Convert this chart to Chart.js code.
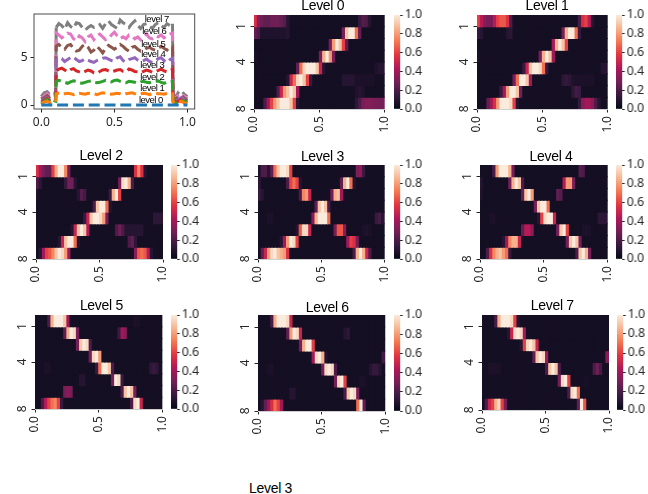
<!DOCTYPE html>
<html><head><meta charset="utf-8">
<script src="https://cdn.jsdelivr.net/npm/chart.js@4"></script>
<style>
html,body{margin:0;padding:0;background:#fff;width:648px;height:494px;overflow:hidden}
canvas{position:absolute}
#cap{position:absolute;left:249px;top:480px;font:14px "Liberation Sans";letter-spacing:-.3px;color:#000}
</style></head><body>
<div id="cap">Level 3</div>
<script>
const b=.05;
const colorbarTicks=[0,.2,.4,.6,.8,1];
const heatXTicks=[0,.5,1];
const heatYTicks=[1,4,8];
const lineXTicks=[0,.5,1];
const lineYTicks=[0,5];
const lineNames=['level 0','level 1','level 2','level 3','level 4','level 5','level 6','level 7'];
const lineColors=['#1f77b4','#ff7f0e','#2ca02c','#d62728','#9467bd','#8c564b','#e377c2','#7f7f7f'];
const labelX=[.75,.76,.76,.76,.766,.766,.773,.79];
const labelY=[.53,1.8,2.96,4.23,5.39,6.45,7.82,9.09];
const xs=[0,.02,.04,.06,.08,.098,
.102,.12,.14,.16,.18,.2,.22,.24,.26,.28,.3,.32,.34,.36,.38,.4,.42,.44,.46,.48,
.5,.52,.54,.56,.58,.6,.62,.64,.66,.68,.7,.72,.74,.76,.78,.8,.82,.84,.86,.88,.898,
.902,.92,.94,.96,.98,1];
const line0=[0,0,0,0,0,0, 0,0,0,0,0,0,0,0,0,0, 0,0,0,0,0,0,0,0,0,0, 0,0,0,0,0,0,0,0,0,0, 0,0,0,0,0,0,0,0,0,0, 0, 0,0,0,0,0,0];
const line1=[.2,.3,.4,.2,.3,.3, 1.2,1.25,1.15,1.2,1.25,1.2,1.1,1.2,1.25,1.2, 1.15,1.25,1.2,1.2,1.1,1.2,1.3,1.25,1.2,1.15, 1.2,1.25,1.2,1.1,1.2,1.25,1.3,1.2,1.15,1.2, 1.25,1.2,1.1,1.2,1.25,1.2,1.2,1.15,1.25,1.2, 1.2, .3,.2,.3,.4,.2,.2];
const line2=[.1,.4,.6,.3,.5,.4, 2.5,2.6,2.5,2.4,2.3,2.45,2.55,2.5,2.35,2.3, 2.4,2.5,2.55,2.4,2.35,2.4,2.5,2.6,2.5,2.45, 2.6,2.65,2.5,2.4,2.35,2.5,2.45,2.4,2.3,2.45, 2.5,2.4,2.35,2.45,2.5,2.55,2.4,2.3,2.45,2.5, 2.5, .4,.2,.3,.5,.4,.3];
const line3=[.3,.5,.7,.4,.6,.5, 3.6,3.8,3.9,3.7,3.5,3.75,3.85,3.6,3.5,3.4, 3.55,3.7,3.6,3.4,3.35,3.55,3.7,3.75,3.6,3.5, 3.6,3.7,3.75,3.55,3.5,3.8,3.7,3.55,3.5,3.4, 3.55,3.7,3.6,3.45,3.5,3.65,3.8,3.6,3.5,3.7, 3.75, .5,.3,.4,.6,.4,.3];
const line4=[.4,.6,.8,.5,.7,.6, 4.8,5,4.9,4.6,4.8,5,5.1,4.8,4.6,4.7, 4.9,4.75,4.6,4.5,4.7,4.8,4.95,5,4.85,4.7, 4.65,5,5.1,4.7,4.55,4.8,4.9,5,4.75,4.6, 4.7,4.85,4.6,4.5,4.65,4.9,5,4.7,4.5,4.8, 4.95, .6,.5,.6,.8,.5,.4];
const line5=[.6,.8,1,.7,.9,.8, 6.2,6.4,6.1,5.9,6.3,6.4,6,5.7,5.8,6.2, 6.4,6.1,5.6,5.8,6.2,5.9,5.5,6,6.3,6.1, 5.9,6.1,6.4,6.2,5.9,5.7,6.1,6.2,5.9,5.7, 5.8,6,6.1,5.9,5.8,6,6.2,6,5.8,6.1, 6.2, .7,.6,.9,1,.7,.5];
const line6=[.7,1,1.2,.9,1.1,1, 7.6,7.4,7.1,7.3,7.6,7.5,7,6.8,7.3,7.1, 6.7,7.2,7.4,6.9,7.3,7.5,7.2,6.9,7,7.4, 7.7,7.3,7,7.2,7,7.4,7.3,7,7.2,6.9, 7.3,7.5,7.1,7,7.3,7.2,7.4,7.1,7.3,7.5, 7.6, .9,.7,1.1,1.2,.9,.7];
const line7=[.9,1.3,1.4,1.1,1.3,1.2, 8.2,8.6,8.4,8,8.7,8.3,8.1,8.7,8.6,8.2, 7.9,8.2,8.4,8.2,8.3,8.5,8.1,8.6,8.9,8.5, 8.3,8.1,9,8.7,8.5,8.2,8.6,8.9,8.4,8.1, 8.5,8.6,8.3,8.1,8.5,8.7,8.4,8.2,8.6,8.4, 8.6, 1.2,.8,1.4,1.5,1.1,.9];

const level0=[
[.55,.35,.28,.25,.25,.28,.28,.28,.25,.22, .1,b,b,b,b,b,b,b,b,b, b,b,b,b,b,b,b,b,b,b, b,b,.15,.22,.2,.1,b,b,b,b],
[.25,.2,.08,.08,.08,.08,.08,.08,.08,.08, .1,b,b,b,b,b,b,b,b,b, b,b,b,b,b,b,b,.3,.9,1, 1,.7,.25,b,b,b,b,b,b,b],
[b,b,b,b,b,b,b,b,b,b, b,b,b,b,b,b,b,b,b,b, b,b,b,.3,.8,1,.9,.6,.25,b, b,b,b,b,b,b,b,b,b,b],
[.07,b,b,b,b,b,b,b,b,b, b,b,b,b,b,b,b,b,b,b, .3,.85,1,.8,.3,b,b,b,b,b, b,b,b,b,b,b,b,b,b,b],
[b,b,b,b,b,b,b,b,b,b, b,b,b,.25,.7,.95,1,1,1,.9, .5,.1,b,b,b,b,b,b,b,b, b,b,b,b,b,b,b,.08,.1,.1],
[b,b,b,b,b,b,b,b,b,b, .1,.5,.7,.95,1,.9,.6,.15,b,b, b,b,b,b,b,b,b,.1,.1,.1, .1,.07,.07,.07,.07,.07,.07,b,b,b],
[b,b,b,b,b,b,b,.2,.5,.8, .9,1,.9,.4,b,b,b,b,b,b, b,b,b,b,b,b,b,b,b,b, b,.08,.1,.08,b,b,b,b,b,b],
[b,b,b,.2,.4,.6,.8,.9,1,1, 1,.9,.6,.1,b,b,b,b,b,b, b,b,b,b,b,b,b,b,b,b, b,.12,.2,.3,.33,.33,.32,.3,.3,.3]];
const level1=[
[.6,.45,.35,.3,.3,.45,.6,.65,.65,.55, .2,b,b,b,b,b,b,b,b,b, b,b,b,b,b,b,b,b,b,b, b,.2,.55,.6,.45,.1,b,b,b,b],
[.15,.1,b,b,b,b,b,b,b,.1, .12,b,b,b,b,b,b,b,b,b, b,b,b,b,b,b,.3,.85,1,1, .7,.15,b,b,b,b,b,b,b,b],
[b,b,b,b,b,b,b,b,b,b, b,b,b,b,b,b,b,b,b,b, b,b,b,.4,.85,1,.9,.6,b,b, b,b,b,b,b,b,b,b,b,b],
[.07,b,b,b,b,b,b,b,b,b, b,b,b,b,b,b,b,b,b,.3, .85,1,.9,.4,b,b,b,b,b,b, b,b,b,b,b,b,b,b,b,b],
[b,b,b,b,b,b,b,b,b,b, b,b,b,b,.15,.5,.9,1,1,.95, .7,.15,b,b,b,b,b,b,b,b, b,b,b,b,b,b,b,b,.1,.1],
[b,b,b,b,b,b,b,b,b,b, b,.3,.7,1,1,.9,.4,b,b,b, b,b,b,b,b,b,.12,.14,.12,.08, .07,.07,.07,.07,.07,.07,b,b,b,b],
[b,b,b,b,b,b,b,.15,.4,.8, 1,1,.9,.3,b,b,b,b,b,b, b,b,b,b,b,b,b,b,b,.12, .18,.15,b,b,b,b,b,b,b,b],
[b,b,b,.25,.4,.55,.8,1,1,1, .95,.6,.1,b,b,b,b,b,b,b, b,b,b,b,b,b,b,b,b,b, b,.15,.35,.4,.4,.35,.2,.1,b,b]];
const level2=[
[.55,.4,.3,.25,.25,.6,.85,1,1,.75, .3,b,b,b,b,b,b,b,b,b, b,b,b,b,b,b,b,b,b,b, b,.55,.75,.55,.1,b,b,b,b,b],
[.2,.12,b,b,b,b,b,b,b,.15, .3,.28,.1,b,b,b,b,b,b,b, b,b,b,b,b,b,.3,.95,1,.85, .2,b,b,b,b,b,b,b,b,b],
[.08,b,b,b,b,b,b,b,b,b, b,b,b,.1,.22,.18,b,b,b,b, b,b,b,.15,.85,1,.6,b,b,b, b,b,b,b,b,b,b,b,b,b],
[b,b,b,b,b,b,b,b,b,b, b,b,b,b,b,b,b,b,.2,.9, 1,1,.7,.1,b,b,b,b,b,b, b,b,b,b,b,b,b,b,b,b],
[b,b,b,b,b,b,b,b,b,b, b,b,b,b,b,.15,.5,.9,1,1, .95,.8,.3,b,b,b,b,b,b,b, b,b,b,b,b,b,b,.12,.12,.12],
[b,b,b,b,b,b,b,b,b,b, b,.1,.5,.9,1,.9,.45,b,b,b, b,b,b,b,b,.2,.28,.2,.1,.1, .1,.1,.1,.1,b,b,b,b,b,b],
[b,b,b,b,b,b,b,.1,.5,.9, 1,1,.7,.1,b,b,b,b,b,b, b,b,b,b,b,b,b,b,b,.2, .25,.12,b,b,b,b,b,b,b,b],
[b,.1,.4,.6,.65,.75,.9,1,.95,.8, .4,b,b,b,b,b,b,b,b,b, b,b,b,b,b,b,b,b,b,b, b,.35,.65,.7,.65,.45,.1,b,b,b]];
const level3=[
[.08,.2,.2,.1,.25,.7,.9,1,1,.95, .6,b,b,b,b,b,b,b,b,b, b,b,b,b,b,b,b,b,b,b, b,.32,.35,.15,b,b,b,b,b,b],
[.12,b,b,b,b,b,b,b,b,.2, .6,.7,.6,.1,b,b,b,b,b,b, b,b,b,b,b,b,.25,.85,1,.7, .1,b,b,b,b,b,b,b,b,b],
[.15,.1,b,b,b,b,b,b,b,b, b,b,b,.2,.75,.8,.5,b,b,b, b,b,b,.3,.85,.9,.4,b,b,b, b,b,b,b,b,b,b,b,b,b],
[b,b,b,b,b,b,b,b,b,b, b,b,b,b,b,b,b,b,.25,.9, 1,.9,.2,b,b,b,b,b,b,b, b,b,b,b,b,b,b,b,b,b],
[b,b,b,.07,.07,b,b,b,b,b, b,b,b,b,b,b,b,.35,.85,1, 1,1,.7,b,b,b,b,b,b,b, b,b,b,b,b,b,b,.15,.18,.1],
[b,b,b,b,b,b,b,b,b,b, b,b,.1,.65,.95,.95,.5,b,b,b, b,b,b,b,.3,.65,.65,.35,b,b, b,b,b,.07,.08,.07,b,b,b,b],
[b,b,b,b,b,b,b,.1,.4,.8, 1,.95,.6,b,b,b,b,b,b,b, b,b,b,b,b,b,b,b,.4,.6, .55,.3,b,b,b,b,b,b,b,b],
[b,.25,.5,.8,.95,1,.9,.85,.8,.55, b,b,b,b,b,b,b,b,b,b, b,b,b,b,b,b,b,b,b,b, .2,.85,1,.85,.5,.2,b,b,b,b]];
const level4=[
[b,b,b,b,.2,.8,1,1,1,.85, .3,b,b,b,b,b,b,b,b,b, b,b,b,b,b,b,b,b,b,b, b,.22,.2,b,b,b,b,b,b,b],
[.1,b,b,b,b,b,b,b,b,.3, .85,1,.9,.2,b,b,b,b,b,b, b,b,b,b,b,b,.45,.8,.8,.3, b,b,b,b,b,b,b,b,b,b],
[.08,b,b,b,b,b,b,b,b,b, b,b,b,.25,.9,1,.8,b,b,b, b,b,b,b,.25,.22,b,b,b,b, b,b,b,b,b,b,b,b,b,b],
[b,b,b,b,b,b,b,b,b,b, b,b,b,b,b,b,b,.3,.9,1, 1,.7,b,b,b,b,b,b,b,b, b,b,b,b,b,b,b,b,b,b],
[b,b,b,.07,.07,b,b,b,b,b, b,b,b,b,b,b,b,b,.1,.6, .95,1,1,.5,b,b,b,b,b,b, b,b,b,b,b,b,b,.12,.12,.12],
[b,b,b,b,b,b,b,b,b,b, b,b,b,.25,.45,.45,.35,b,b,b, b,b,b,b,.3,.9,1,.6,b,b, b,b,.07,.08,.07,b,b,b,b,b],
[b,b,b,b,b,b,b,.1,.4,.75, .85,.85,.5,b,b,b,b,b,b,b, b,b,b,b,b,b,b,.3,.9,1, .9,.3,b,b,b,b,b,b,b,b],
[b,b,.2,.55,.75,.85,.9,.8,.7,.15, b,b,b,b,b,b,b,b,b,b, b,b,b,b,b,b,b,b,b,b, .2,.9,1,.85,.3,b,b,b,b,b]];
const level5=[
[b,b,b,b,.2,.85,1,1,1,.9, .4,b,b,b,b,b,b,b,b,b, b,b,b,b,b,b,b,b,b,b, b,.07,.07,b,b,b,b,b,b,b],
[b,b,b,b,b,b,b,b,b,.25, .85,1,.95,.3,b,b,b,b,b,b, b,b,b,b,b,b,.15,.4,.35,b, b,b,b,b,b,b,b,b,b,b],
[b,b,b,b,b,b,b,b,b,b, b,b,b,.3,.9,1,.95,.2,b,b, b,b,b,b,b,b,b,b,b,b, b,b,b,b,b,b,b,b,b,b],
[b,b,b,b,b,b,b,b,b,b, b,b,b,b,b,b,b,.3,.95,1, .8,b,b,b,b,b,b,b,b,b, b,b,b,b,b,b,b,b,b,b],
[b,b,b,.07,.07,b,b,b,b,b, b,b,b,b,b,b,b,b,b,.15, .7,1,1,.9,.2,b,b,b,b,b, b,b,b,b,b,b,.12,.15,.12,b],
[b,b,b,b,b,b,b,b,b,b, b,b,b,b,.1,.1,b,b,b,b, b,b,b,b,.3,1,.95,.15,b,b, b,b,b,b,b,b,b,b,b,b],
[b,b,b,b,b,b,b,b,b,.3, .35,.3,b,b,b,b,b,b,b,b, b,b,b,b,b,b,b,.2,.9,1, .9,.3,b,b,b,b,b,b,b,b],
[b,b,.2,.45,.6,.7,.75,.6,.15,b, b,b,b,b,b,b,b,b,b,b, b,b,b,b,b,b,b,b,b,b, .2,.95,1,.5,b,b,b,b,b,b]];
const level6=[
[b,b,b,b,.2,.85,1,1,1,.95, .5,b,b,b,b,b,b,b,b,b, b,b,b,b,b,b,b,b,b,b, b,b,b,b,b,b,b,b,b,b],
[b,b,b,b,b,b,b,b,b,.25, .8,1,.95,.5,b,b,b,b,b,b, b,b,b,b,b,b,b,.1,.12,b, b,b,b,b,b,b,b,b,b,b],
[b,b,b,b,b,b,b,b,b,b, b,b,b,.3,.85,1,1,.6,b,b, b,b,b,b,b,b,b,b,b,b, b,b,b,b,b,b,b,b,b,b],
[b,b,b,b,b,b,b,b,b,b, b,b,b,b,b,b,b,.4,.95,1, .85,.1,b,b,b,b,b,b,b,b, b,b,b,b,b,b,b,b,b,.18],
[b,b,b,.07,.07,b,b,b,b,b, b,b,b,b,b,b,b,b,b,b, .3,.95,1,.95,.2,b,b,b,b,b, b,b,b,b,b,.1,.14,.14,.1,b],
[b,b,b,b,b,b,b,b,b,b, b,b,b,b,b,b,b,b,b,b, b,b,b,b,.3,.95,1,.6,b,b, b,b,.07,.07,b,b,b,b,b,b],
[b,b,b,b,b,b,b,b,b,b, .1,.1,b,b,b,b,b,b,b,b, b,b,b,b,b,b,b,.2,.9,1, .95,.3,b,b,b,b,b,b,b,b],
[b,.1,.25,.4,.55,.7,.6,.4,b,b, b,b,b,b,b,b,b,b,b,b, b,b,b,b,b,b,b,b,b,b, b,.7,1,.25,b,b,b,b,b,b]];
const level7=[
[b,b,b,b,.2,.85,1,1,1,.95, .6,.1,b,b,b,b,b,b,b,b, b,b,b,b,b,b,b,b,b,b, b,b,b,b,b,b,b,b,b,b],
[b,b,b,b,b,b,b,b,.1,.5, .95,1,.95,.4,b,b,b,b,b,b, b,b,b,b,b,b,b,b,b,b, b,b,b,b,b,b,b,b,b,b],
[b,b,b,b,b,b,b,b,b,b, b,b,.1,.6,.95,1,.9,.5,b,b, b,b,b,b,b,b,b,b,b,b, b,b,b,b,b,b,b,b,b,b],
[b,b,b,b,b,b,b,b,b,b, b,b,b,b,b,b,.25,.9,1,.95, .4,b,b,b,b,b,b,b,b,b, b,b,b,b,b,b,b,b,b,.35],
[b,b,.07,.07,.07,.07,b,b,b,b, b,b,b,b,b,b,b,b,b,b, .2,.9,1,.9,.2,b,b,b,b,b, b,b,b,b,b,.2,.28,.18,b,b],
[b,b,b,b,b,b,b,b,b,b, b,b,b,b,b,b,b,b,b,b, b,b,b,b,.3,.95,1,.6,b,b, b,b,.06,.06,b,b,b,b,b,b],
[b,b,b,b,b,b,b,b,b,b, b,b,b,b,b,b,b,b,b,b, b,b,b,b,b,b,b,.2,.95,1, .7,b,b,b,b,b,b,b,b,b],
[b,.2,.5,.6,.85,.95,.6,.3,b,b, b,b,b,b,b,b,b,b,b,b, b,b,b,b,b,b,b,b,b,b, .25,1,.65,b,b,b,b,b,b,b]];

const levels=[level0,level1,level2,level3,level4,level5,level6,level7];
const lines=[line0,line1,line2,line3,line4,line5,line6,line7];
const rocketStops=['#030a15','#35193e','#701f57','#ad1759','#e13342','#f37651','#f6b48f','#faebdd'];

/* panel placement: plot box left, top, width, height, colourbar left, title centre, title gap */
const panels=[
 [254,14.7,130.7,93.6,394,322.7,2],
 [477,14.7,130.7,93.6,616,547,2],
 [35.7,164.7,127,94,171,100.8,2],
 [258.3,164.7,126.7,94,394,322.7,1],
 [480,164.7,127.7,94,616.3,551,1],
 [35.3,314.7,127.4,94,171,101.7,1.5],
 [257.7,314.7,127.3,95.3,394.3,327,0],
 [481.7,315,127,95,617,552,1.5]];

const hex=h=>[1,3,5].map(i=>parseInt(h.substr(i,2),16));
function rocket(v){
  const t=Math.max(0,Math.min(1,v))*(rocketStops.length-1),i=Math.min(Math.floor(t),rocketStops.length-2),f=t-i;
  const A=hex(rocketStops[i]),B=hex(rocketStops[i+1]);
  return 'rgb('+A.map((a,k)=>Math.round(a+(B[k]-a)*f)).join(',')+')';
}
const INK='#262626';
const tickFont={family:'"Noto Sans"',size:12};
function mk(l,t,w,h){
  const c=document.createElement('canvas');
  c.style.left=l+'px';c.style.top=t+'px';c.style.width=w+'px';c.style.height=h+'px';
  c.width=w;c.height=h;document.body.appendChild(c);return c.getContext('2d');
}
const base={responsive:false,animation:false,devicePixelRatio:1,events:[]};
const noPad=s=>{s.paddingLeft=s.paddingRight=s.paddingTop=s.paddingBottom=0;};

levels.forEach((rows,p)=>{
  const [px,py,pw,ph,cbx,tcx,gap]=panels[p];
  const left=px-40,W=Math.ceil(pw)+52,H=Math.ceil(ph)+20+45;
  const n=rows[0].length;
  new Chart(mk(left,py-20,W,H),{
    type:'bar',
    data:{datasets:rows.map((vals,r)=>({
      data:vals.map((v,i)=>({x:[i/n,(i+1)/n],y:r+.5})),
      backgroundColor:vals.map(rocket),
      borderWidth:0,inflateAmount:.5,grouped:false,barPercentage:1,categoryPercentage:1
    }))},
    plugins:[{id:'titleShift',
      afterLayout(ch){const t=ch.titleBlock,c=tcx-left;t.left=c-50;t.right=c+50;},
      beforeDraw(ch){ch.ctx.letterSpacing='-0.3px';}}],
    options:{...base,indexAxis:'y',
      layout:{padding:{right:W-40-pw}},
      plugins:{legend:{display:false},tooltip:{enabled:false},
        title:{display:true,text:'Level '+p,color:'#000',font:{family:'"Liberation Sans"',size:14,weight:'normal',lineHeight:1},padding:{top:6-gap,bottom:gap}}},
      scales:{
        x:{type:'linear',min:0,max:1,
          afterBuildTicks:s=>{s.ticks=heatXTicks.map(value=>({value}));},
          afterFit:s=>{s.height=45;noPad(s);},
          border:{display:true,color:'#d0d0d0',width:1},
          grid:{drawOnChartArea:false,drawTicks:true,tickLength:3.5,tickColor:INK,tickWidth:1},
          ticks:{minRotation:90,maxRotation:90,autoSkip:false,color:INK,font:tickFont,padding:4,callback:v=>v.toFixed(1)}},
        y:{type:'linear',reverse:true,min:0,max:8,offset:false,
          afterBuildTicks:s=>{s.ticks=heatYTicks.map(value=>({value}));},
          afterFit:s=>{s.width=40;noPad(s);},
          border:{display:true,color:'#d0d0d0',width:1},
          grid:{drawOnChartArea:false,drawTicks:true,tickLength:3.5,tickColor:INK,tickWidth:1,offset:false},
          ticks:{minRotation:90,maxRotation:90,crossAlign:'center',autoSkip:false,color:INK,font:tickFont,padding:5,callback:v=>String(v)}}
      }}
  });
  new Chart(mk(cbx,py-10,6.5+32,Math.ceil(ph)+20),{
    type:'bar',
    data:{labels:[''],datasets:[{data:[[0,1]],borderWidth:0,barPercentage:1,categoryPercentage:1,
      backgroundColor:ctx=>{
        const a=ctx.chart.chartArea;if(!a)return rocketStops[0];
        const g=ctx.chart.ctx.createLinearGradient(0,a.bottom,0,a.top);
        rocketStops.forEach((c,i)=>g.addColorStop(i/(rocketStops.length-1),c));
        return g;}}]},
    options:{...base,layout:{padding:{top:10,bottom:10}},
      plugins:{legend:{display:false},tooltip:{enabled:false}},
      scales:{
        x:{display:false},
        y:{type:'linear',position:'right',min:0,max:1,
          afterBuildTicks:s=>{s.ticks=colorbarTicks.map(value=>({value}));},
          afterFit:s=>{s.width=32;noPad(s);},
          border:{display:false},
          grid:{drawOnChartArea:false,drawTicks:true,tickLength:2.5,tickColor:INK,tickWidth:1},
          ticks:{autoSkip:false,color:INK,font:tickFont,padding:2,callback:v=>v.toFixed(1)}}
      }}
  });
});

new Chart(mk(4,8,200,126),{
  type:'scatter',
  data:{datasets:lines.map((ys,i)=>({
    label:lineNames[i],showLine:true,fill:false,
    data:ys.map((y,k)=>({x:xs[k],y})),
    borderColor:lineColors[i],borderWidth:3,borderDash:[11,4.8],pointRadius:0,tension:0,
    segment:i===7?{borderDash:c=>(c.p0DataIndex===5||c.p0DataIndex===46)?[]:undefined}:undefined
  }))},
  plugins:[{id:'frameAndLabels',afterDraw(ch){
    const c=ch.ctx,a=ch.chartArea;
    c.save();c.strokeStyle='#4d4d4d';c.lineWidth=1;c.strokeRect(a.left,a.top,a.right-a.left,a.bottom-a.top);
    c.fillStyle='#000';c.font='9.5px "Liberation Sans"';c.letterSpacing='-0.5px';c.textAlign='center';c.textBaseline='middle';
    lineNames.forEach((t,i)=>c.fillText(t,ch.scales.x.getPixelForValue(labelX[i]),ch.scales.y.getPixelForValue(labelY[i])));
    c.restore();
  }}],
  options:{...base,layout:{padding:{top:6,right:9.3}},
    plugins:{legend:{display:false},tooltip:{enabled:false}},
    scales:{
      x:{type:'linear',min:-.05,max:1.05,
        afterBuildTicks:s=>{s.ticks=lineXTicks.map(value=>({value}));},
        afterFit:s=>{s.height=25;noPad(s);},
        grid:{display:true,drawOnChartArea:false,drawTicks:true,tickLength:3.5,tickColor:INK},
        border:{display:false},
        ticks:{autoSkip:false,maxRotation:0,color:INK,font:tickFont,padding:3,callback:v=>v.toFixed(1)}},
      y:{type:'linear',min:-.42,max:9.62,
        afterBuildTicks:s=>{s.ticks=lineYTicks.map(value=>({value}));},
        afterFit:s=>{s.width=30;noPad(s);},
        grid:{display:true,drawOnChartArea:false,drawTicks:true,tickLength:3.5,tickColor:INK},
        border:{display:false},
        ticks:{autoSkip:false,color:INK,font:tickFont,padding:3,callback:v=>String(v)}}
    }}
});
</script>
</body></html>
